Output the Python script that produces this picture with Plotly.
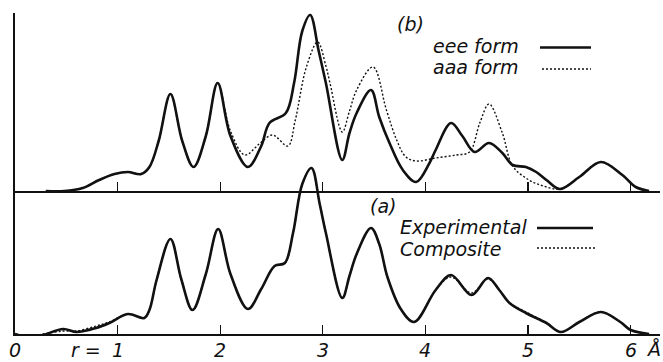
import plotly.graph_objects as go

# ---- data (r in Å, heights in arbitrary units) ----
r_eee = [0.30, 0.48, 0.66, 0.82, 0.97, 1.10, 1.23, 1.31, 1.40, 1.515, 1.63, 1.74, 1.86, 1.975,
         2.10, 2.27, 2.40, 2.48, 2.64, 2.72, 2.80, 2.877, 2.96, 3.03, 3.19, 3.26, 3.33, 3.47,
         3.55, 3.65, 3.78, 3.91, 4.04, 4.10, 4.25, 4.36, 4.48, 4.62, 4.75, 4.85, 4.98, 5.08,
         5.18, 5.31, 5.50, 5.71, 5.92, 6.05, 6.18]
h_eee = [0, 0, 3, 11, 17, 19, 17, 24, 50, 97, 50, 24, 55, 108,
         55, 24, 45, 68, 78, 108, 160, 176, 140, 108, 31, 58, 78, 101,
         74, 48, 21, 9, 28, 41, 68, 55, 39, 48, 38, 26, 24, 19,
         11, 2, 14, 29, 16, 4, 0]

r_aaa = [0.30, 0.48, 0.66, 0.82, 0.97, 1.10, 1.23, 1.31, 1.40, 1.515, 1.63, 1.74, 1.86, 1.975,
         2.10, 2.24, 2.38, 2.51, 2.66, 2.73, 2.84, 2.95, 3.03, 3.07, 3.19, 3.26, 3.33, 3.49,
         3.62, 3.72, 3.81, 3.91, 4.10, 4.30, 4.43, 4.53, 4.62, 4.75, 4.85, 5.01, 5.15, 5.31,
         5.50, 5.71, 5.92, 6.05, 6.18]
h_aaa = [0, 0, 3, 11, 17, 19, 17, 24, 50, 97, 50, 24, 55, 108,
         60, 36, 47, 56, 45, 70, 124, 149, 125, 108, 59, 80, 101, 124,
         81, 51, 34, 30, 33, 36, 39, 68, 87, 58, 25, 11, 5, 2,
         14, 29, 16, 4, 0]

r_exp = [0.0, 0.14, 0.27, 0.47, 0.60, 0.79, 0.92, 1.10, 1.26, 1.31, 1.38, 1.515, 1.62, 1.73,
         1.86, 1.98, 2.10, 2.27, 2.40, 2.53, 2.63, 2.71, 2.80, 2.89, 2.97, 3.03, 3.19, 3.26,
         3.33, 3.47, 3.55, 3.63, 3.76, 3.89, 4.10, 4.25, 4.45, 4.61, 4.72, 4.82, 4.98, 5.18,
         5.32, 5.50, 5.71, 5.90, 6.00, 6.18]
h_exp = [0, -3, -1, 5, 2, 6, 11, 20, 16, 24, 54, 95, 55, 24,
         60, 105, 60, 25, 45, 68, 71, 101, 150, 166, 130, 101, 36, 58,
         80, 106, 90, 57, 25, 12, 44, 59, 39, 56, 44, 31, 21, 11,
         2, 12, 22, 12, 4, 0]

r_comp = r_exp
h_comp = [0, -2, 0, 3, 3, 8, 12, 20, 16, 24, 54, 95, 55, 24,
          60, 105, 60, 25, 45, 68, 71, 101, 150, 166, 130, 101, 36, 58,
          80, 106, 90, 57, 25, 12, 44, 57, 41, 55, 44, 31, 22, 11,
          2, 12, 22, 12, 4, 0]

tick_vals = [0, 1, 2, 3, 4, 5, 6]
tick_text = ["0", "1", "2", "3", "4", "5", "6"]

FONT = "DejaVu Sans"
BLACK = "#111111"

fig = go.Figure()
solid = dict(color=BLACK, width=2.6, shape="spline", smoothing=1.0)
dotted = dict(color=BLACK, width=1.4, dash="2px,2px", shape="spline", smoothing=1.0)

fig.add_trace(go.Scatter(x=r_comp, y=h_comp, mode="lines", line=dotted, yaxis="y", name="Composite"))
fig.add_trace(go.Scatter(x=r_exp, y=h_exp, mode="lines", line=solid, yaxis="y", name="Experimental"))
fig.add_trace(go.Scatter(x=r_aaa, y=h_aaa, mode="lines", line=dotted, yaxis="y2", name="aaa form"))
fig.add_trace(go.Scatter(x=r_eee, y=h_eee, mode="lines", line=solid, yaxis="y2", name="eee form"))

W, H = 663, 362
PL, PR, PT, PB = 15, 660, 13, 334          # plot area in window pixels
L, T, R, B = PL, PT, W - PR, H - PB
pw, ph = PR - PL, PB - PT
xmax = pw / 102.6
MID = 191                                   # window pixel of the upper baseline

def px2x(px):
    return (px - PL) / pw

def py2y(py):
    return (PB - py) / ph

fig.update_layout(
    template="none",
    width=W, height=H,
    margin=dict(l=L, r=R, t=T, b=B, pad=0, autoexpand=False),
    paper_bgcolor="white", plot_bgcolor="white",
    showlegend=False,
    hovermode=False,
    font=dict(family=FONT, size=19, color=BLACK),
    xaxis=dict(range=[0, xmax], automargin=False, showgrid=False, zeroline=False, showline=True,
               linecolor=BLACK, linewidth=1.8, ticks="inside", ticklen=9, tickwidth=1.4,
               tickcolor=BLACK, tickvals=tick_vals[1:], showticklabels=False),
    xaxis2=dict(range=[0, xmax], overlaying="x", anchor="free", position=py2y(MID),
                automargin=False, showgrid=False, zeroline=False, showline=True,
                linecolor=BLACK, linewidth=1.8,
                ticks="inside", ticklen=9, tickwidth=1.4, tickcolor=BLACK,
                tickvals=tick_vals[1:], showticklabels=False, side="bottom"),
    yaxis=dict(range=[0, ph], automargin=False, showgrid=False, zeroline=False, showline=True,
               linecolor=BLACK, linewidth=1.8, showticklabels=False, ticks=""),
    yaxis2=dict(range=[-(PB - MID), ph - (PB - MID)], overlaying="y", automargin=False,
                showgrid=False, zeroline=False, showline=False, showticklabels=False, ticks=""),
)

# invisible trace so that xaxis2 (upper baseline) renders
fig.add_trace(go.Scatter(x=[0], y=[0], xaxis="x2", yaxis="y", mode="markers",
                         marker=dict(opacity=0), hoverinfo="skip"))

def txt(s, px, py, anchor="left"):
    fig.add_annotation(text="<i>%s</i>" % s, xref="paper", yref="paper",
                       x=px2x(px), y=py2y(py), xanchor=anchor, yanchor="middle",
                       showarrow=False, font=dict(family=FONT, size=19, color=BLACK))

# tick labels on the bottom axis, placed at the axis values
for v, t in zip(tick_vals, tick_text):
    fig.add_annotation(text="<i>%s</i>" % t, xref="x", yref="paper", x=v, y=py2y(350),
                       xanchor="center", yanchor="middle", showarrow=False,
                       font=dict(family=FONT, size=19, color=BLACK))

txt("(b)", 395, 24)
txt("eee form", 431, 46.5)
txt("aaa form", 431, 67.5)
txt("(a)", 368, 206)
txt("Experimental", 398, 226.5)
txt("Composite", 398, 248.5)
txt("r =", 103, 350, anchor="right")
txt("Å", 653, 349, anchor="center")

def seg(px0, px1, py, dash):
    fig.add_shape(type="line", xref="paper", yref="paper", x0=px2x(px0), x1=px2x(px1),
                  y0=py2y(py), y1=py2y(py),
                  line=dict(color=BLACK, width=2.4 if dash == "solid" else 1.4, dash=dash))

seg(540, 591, 47.5, "solid")
seg(542, 591, 69, "2px,2px")
seg(537, 593, 228, "solid")
seg(537, 595, 248, "2px,2px")

fig.write_html(
    "out.html",
    config={"displayModeBar": False, "staticPlot": True},
    post_script="document.body.style.margin='0';document.body.style.overflow='hidden';"
                "document.documentElement.style.overflow='hidden';",
)
